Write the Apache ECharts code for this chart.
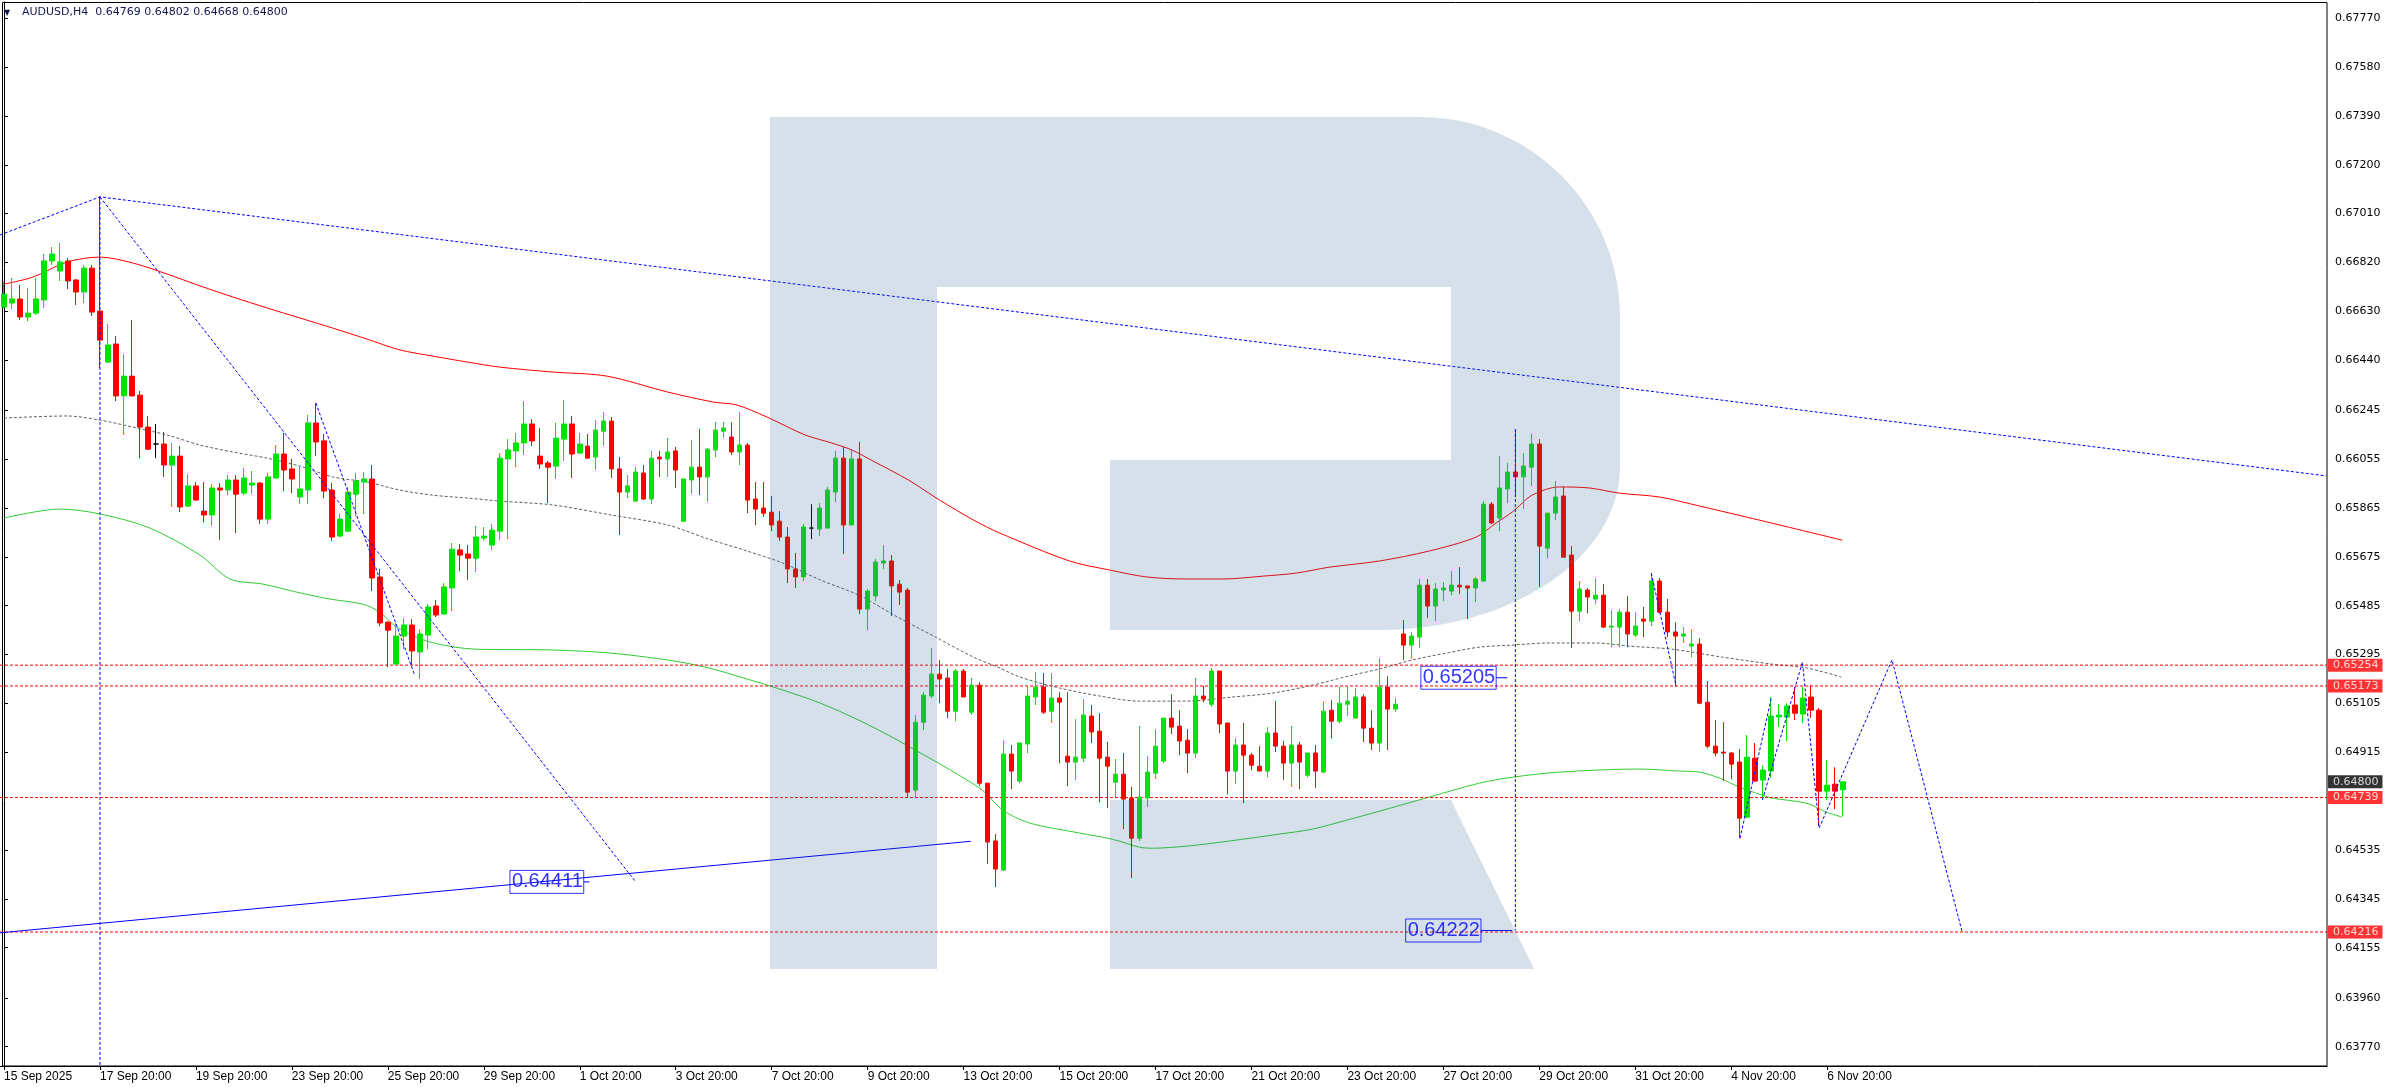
<!DOCTYPE html>
<html><head><meta charset="utf-8">
<script src="https://cdn.jsdelivr.net/npm/echarts@6/dist/echarts.min.js"></script>
<style>html,body{margin:0;padding:0;background:#fff}#c{width:2390px;height:1090px}</style>
</head><body><div id="c"></div>
<script>
const symbolName = 'AUDUSD,H4';
const xTickLabels = ['15 Sep 2025','17 Sep 20:00','19 Sep 20:00','23 Sep 20:00','25 Sep 20:00','29 Sep 20:00','1 Oct 20:00','3 Oct 20:00','7 Oct 20:00','9 Oct 20:00','13 Oct 20:00','15 Oct 20:00','17 Oct 20:00','21 Oct 20:00','23 Oct 20:00','27 Oct 20:00','29 Oct 20:00','31 Oct 20:00','4 Nov 20:00','6 Nov 20:00'];
const yTickValues = [0.63770,0.63960,0.64155,0.64345,0.64535,0.64915,0.65105,0.65295,0.65485,0.65675,0.65865,0.66055,0.66245,0.66440,0.66630,0.66820,0.67010,0.67200,0.67390,0.67580,0.67770];

const opens = [0.66647,0.66662,0.66678,0.66608,0.66623,0.66674,0.66826,0.66787,0.66826,0.66752,0.66705,0.66798,0.66631,0.66433,0.66503,0.66301,0.66378,0.66304,0.66180,0.66114,
0.66114,0.66032,0.66067,0.65873,0.65951,0.65853,0.65838,0.65943,0.65935,0.65974,0.65923,0.65954,0.65962,0.65822,0.65982,0.66075,0.66017,0.65908,0.65935,0.66196,
0.66126,0.65935,0.65756,0.65775,0.65919,0.65966,0.65978,0.65597,0.65421,0.65258,0.65367,0.65410,0.65305,0.65371,0.65484,0.65453,0.65554,0.65702,0.65686,0.65670,
0.65748,0.65721,0.65775,0.66056,0.66087,0.66118,0.66192,0.66067,0.66040,0.66028,0.66133,0.66192,0.66079,0.66106,0.66063,0.66164,0.66203,0.66017,0.65927,0.65892,
0.66001,0.65900,0.66063,0.66056,0.66087,0.65814,0.65974,0.66024,0.65986,0.66091,0.66164,0.66141,0.66083,0.66110,0.65900,0.65865,0.65849,0.65814,0.65752,0.65628,
0.65597,0.65787,0.65783,0.65787,0.65927,0.66059,0.65799,0.66056,0.65472,0.65523,0.65651,0.65659,0.65569,0.65546,0.64768,0.65032,0.65134,0.65219,0.65204,0.65075,
0.65231,0.65071,0.65176,0.64795,0.64570,0.64457,0.64908,0.64803,0.64947,0.65130,0.65169,0.65075,0.65126,0.64900,0.64877,0.64892,0.65056,0.64997,0.64896,0.64799,
0.64830,0.64737,0.64581,0.64737,0.64834,0.64881,0.65048,0.65017,0.64962,0.64912,0.65134,0.65102,0.65231,0.65029,0.64842,0.64943,0.64904,0.64861,0.64842,0.64990,
0.64939,0.64873,0.64943,0.64826,0.64912,0.64838,0.65079,0.65036,0.65102,0.65048,0.65130,0.65009,0.64951,0.65169,0.65083,0.65375,0.65332,0.65363,0.65565,0.65484,
0.65546,0.65542,0.65565,0.65562,0.65554,0.65581,0.65880,0.65826,0.65939,0.66005,0.65986,0.66024,0.66114,0.65709,0.65845,0.65912,0.65682,0.65464,0.65546,0.65511,
0.65526,0.65402,0.65402,0.65460,0.65371,0.65433,0.65425,0.65581,0.65460,0.65383,0.65367,0.65328,0.65336,0.65110,0.64939,0.64916,0.64912,0.64877,0.64663,0.64892,
0.64807,0.64842,0.65052,0.65052,0.65099,0.65064,0.65130,0.65079,0.64764,0.64791,0.64769];
const highs = [0.66744,0.66760,0.66732,0.66721,0.66760,0.66853,0.66880,0.66896,0.66837,0.66756,0.66810,0.66810,0.67075,0.66581,0.66534,0.66464,0.66596,0.66320,0.66223,0.66192,
0.66161,0.66118,0.66106,0.65997,0.65966,0.65966,0.65958,0.65962,0.65993,0.65993,0.66021,0.66009,0.65966,0.66001,0.66110,0.66157,0.66056,0.66024,0.66227,0.66273,
0.66153,0.65962,0.65842,0.65947,0.66001,0.66005,0.66032,0.65628,0.65425,0.65418,0.65437,0.65433,0.65394,0.65491,0.65507,0.65573,0.65729,0.65725,0.65721,0.65795,
0.65791,0.65803,0.66079,0.66133,0.66157,0.66281,0.66211,0.66176,0.66048,0.66196,0.66285,0.66223,0.66157,0.66153,0.66207,0.66238,0.66219,0.66063,0.65993,0.66024,
0.66032,0.66087,0.66087,0.66137,0.66102,0.65978,0.66129,0.66172,0.66098,0.66199,0.66199,0.66199,0.66238,0.66118,0.65966,0.65966,0.65912,0.65853,0.65791,0.65690,
0.65803,0.65880,0.65884,0.65947,0.66087,0.66102,0.66094,0.66122,0.65550,0.65667,0.65721,0.65682,0.65585,0.65554,0.65060,0.65149,0.65320,0.65274,0.65239,0.65239,
0.65239,0.65204,0.65188,0.64795,0.64597,0.64962,0.64943,0.64951,0.65173,0.65227,0.65223,0.65223,0.65149,0.65149,0.65044,0.65122,0.65099,0.65067,0.64955,0.64889,
0.64912,0.64780,0.65017,0.64900,0.65005,0.65048,0.65141,0.65079,0.65005,0.65204,0.65173,0.65243,0.65231,0.65029,0.64970,0.65029,0.64912,0.64939,0.65013,0.65114,
0.64959,0.65017,0.64955,0.64912,0.64943,0.65114,0.65118,0.65169,0.65169,0.65165,0.65141,0.65079,0.65281,0.65211,0.65126,0.65429,0.65383,0.65589,0.65589,0.65573,
0.65577,0.65620,0.65635,0.65562,0.65597,0.65892,0.65888,0.66067,0.66040,0.66172,0.66079,0.66153,0.66133,0.65845,0.65970,0.65947,0.65717,0.65581,0.65554,0.65593,
0.65569,0.65468,0.65472,0.65523,0.65460,0.65480,0.65612,0.65593,0.65511,0.65421,0.65402,0.65394,0.65359,0.65192,0.65040,0.65032,0.64916,0.64927,0.64982,0.64951,
0.64865,0.65130,0.65102,0.65106,0.65169,0.65169,0.65176,0.65087,0.64885,0.64857,0.64802];
const lows = [0.66643,0.66639,0.66596,0.66592,0.66616,0.66643,0.66810,0.66748,0.66717,0.66655,0.66662,0.66612,0.66410,0.66429,0.66281,0.66149,0.66301,0.66059,0.66091,0.66059,
0.65986,0.65869,0.65849,0.65869,0.65892,0.65810,0.65795,0.65740,0.65915,0.65768,0.65915,0.65919,0.65803,0.65803,0.65978,0.65931,0.65923,0.65880,0.65880,0.66067,
0.65904,0.65737,0.65752,0.65772,0.65834,0.65842,0.65542,0.65406,0.65246,0.65258,0.65316,0.65254,0.65200,0.65316,0.65441,0.65449,0.65464,0.65620,0.65585,0.65616,
0.65740,0.65702,0.65740,0.65744,0.66024,0.66071,0.66106,0.66017,0.65884,0.65978,0.66048,0.65982,0.66075,0.66056,0.66013,0.66106,0.65982,0.65760,0.65904,0.65888,
0.65896,0.65880,0.65986,0.65986,0.65943,0.65810,0.65919,0.65915,0.65888,0.66063,0.66137,0.66071,0.66032,0.65845,0.65799,0.65830,0.65775,0.65737,0.65573,0.65554,
0.65581,0.65744,0.65756,0.65787,0.65888,0.65686,0.65799,0.65453,0.65390,0.65503,0.65628,0.65445,0.65488,0.64741,0.64741,0.65001,0.65126,0.65106,0.65048,0.65036,
0.65130,0.65060,0.64784,0.64480,0.64391,0.64453,0.64772,0.64795,0.64912,0.65099,0.65064,0.65029,0.64873,0.64784,0.64807,0.64877,0.64951,0.64721,0.64698,0.64741,
0.64616,0.64426,0.64570,0.64702,0.64811,0.64873,0.64986,0.64904,0.64834,0.64892,0.65110,0.65091,0.64990,0.64752,0.64791,0.64717,0.64846,0.64842,0.64818,0.64916,
0.64807,0.64780,0.64772,0.64818,0.64776,0.64834,0.64970,0.65029,0.65056,0.65048,0.64955,0.64924,0.64916,0.64924,0.65071,0.65274,0.65278,0.65320,0.65437,0.65425,
0.65503,0.65526,0.65530,0.65433,0.65499,0.65581,0.65803,0.65775,0.65884,0.65908,0.65861,0.65951,0.65558,0.65670,0.65818,0.65674,0.65320,0.65425,0.65456,0.65491,
0.65398,0.65324,0.65324,0.65324,0.65363,0.65363,0.65406,0.65456,0.65363,0.65169,0.65340,0.65285,0.65102,0.64931,0.64900,0.64803,0.64811,0.64581,0.64659,0.64799,
0.64729,0.64815,0.65013,0.64959,0.65040,0.65029,0.65048,0.64628,0.64729,0.64694,0.64668];
const closes = [0.66697,0.66678,0.66608,0.66623,0.66678,0.66826,0.66853,0.66822,0.66748,0.66705,0.66798,0.66627,0.66518,0.66499,0.66301,0.66378,0.66301,0.66180,0.66094,0.66114,
0.66032,0.66067,0.65869,0.65951,0.65896,0.65838,0.65943,0.65935,0.65974,0.65919,0.65982,0.65962,0.65822,0.65986,0.66075,0.66013,0.65978,0.65939,0.66196,0.66122,
0.65931,0.65752,0.65822,0.65927,0.65970,0.65978,0.65593,0.65418,0.65390,0.65367,0.65410,0.65309,0.65375,0.65480,0.65449,0.65558,0.65705,0.65682,0.65670,0.65752,
0.65756,0.65779,0.66059,0.66091,0.66118,0.66192,0.66126,0.66036,0.66024,0.66137,0.66192,0.66075,0.66114,0.66059,0.66168,0.66203,0.66017,0.65927,0.65951,0.66005,
0.65900,0.66059,0.66056,0.66083,0.66013,0.65978,0.66024,0.65986,0.66094,0.66168,0.66176,0.66083,0.66110,0.65896,0.65861,0.65845,0.65799,0.65752,0.65628,0.65597,
0.65791,0.65787,0.65865,0.65935,0.66059,0.65799,0.66056,0.65472,0.65542,0.65655,0.65659,0.65562,0.65538,0.64760,0.65032,0.65137,0.65219,0.65200,0.65075,0.65231,
0.65130,0.65176,0.64795,0.64566,0.64461,0.64908,0.64842,0.64951,0.65134,0.65169,0.65071,0.65126,0.65110,0.64877,0.64896,0.65060,0.64994,0.64892,0.64861,0.64830,
0.64733,0.64581,0.64741,0.64838,0.64939,0.65048,0.65013,0.64959,0.64912,0.65134,0.65122,0.65231,0.65025,0.64842,0.64943,0.64904,0.64865,0.64842,0.64990,0.64939,
0.64873,0.64943,0.64877,0.64912,0.64842,0.65075,0.65036,0.65106,0.65114,0.65130,0.65009,0.64951,0.65169,0.65083,0.65102,0.65332,0.65367,0.65565,0.65484,0.65550,
0.65554,0.65565,0.65558,0.65554,0.65589,0.65880,0.65807,0.65943,0.66005,0.65986,0.66028,0.66114,0.65717,0.65845,0.65908,0.65674,0.65464,0.65550,0.65519,0.65526,
0.65402,0.65406,0.65460,0.65375,0.65406,0.65425,0.65581,0.65460,0.65383,0.65367,0.65375,0.65336,0.65106,0.64939,0.64912,0.64912,0.64869,0.64659,0.64896,0.64803,
0.64846,0.65056,0.65060,0.65095,0.65067,0.65126,0.65079,0.64764,0.64787,0.64764,0.64800];

const levelPrices = [0.65254, 0.65173, 0.64739, 0.64216];
const currentPrice = 0.64800;

const redMa = [[0,0.66736],[3.6,0.66763],[7.9,0.66822],[12,0.66841],[16.1,0.66818],[20.4,0.66775],[24.5,0.66729],[28.6,0.66686],[32.9,0.66643],[37,0.66604],[41.1,0.66565],[45.4,0.66522],[49.5,0.66480],[53.6,0.66456],[57.9,0.66433],[62,0.66413],[68.6,0.66394],[75.4,0.66378],[83,0.66316],[88.75,0.66277],[91.6,0.66266],[95.4,0.66219],[100.2,0.66149],[103.5,0.66118],[106,0.66091],[108.9,0.66044],[113.1,0.65974],[117,0.65896],[121.25,0.65818],[124.5,0.65768],[133.25,0.65659],[138.25,0.65624],[142.9,0.65597],[147.9,0.65589],[152.4,0.65589],[157.4,0.65600],[161.6,0.65612],[165.75,0.65635],[172,0.65659],[178.25,0.65698],[184.1,0.65752],[186.6,0.65807],[188.6,0.65849],[191.1,0.65915],[194.5,0.65947],[198.25,0.65943],[202,0.65923],[207,0.65908],[212,0.65873],[219.5,0.65818],[229.9,0.65740]];
const grayMid = [[0,0.66215],[7.9,0.66223],[12,0.66207],[16.1,0.66180],[20.4,0.66149],[24.5,0.66110],[28.6,0.66083],[32.9,0.66059],[37,0.66028],[41.1,0.65986],[45.4,0.65966],[49.5,0.65935],[53.6,0.65915],[57.9,0.65904],[62,0.65892],[68.6,0.65877],[75.9,0.65838],[83,0.65799],[87.75,0.65748],[92.5,0.65702],[97.4,0.65651],[102.1,0.65585],[106.9,0.65526],[111.75,0.65441],[116.5,0.65363],[121.25,0.65285],[124.5,0.65243],[127,0.65208],[132,0.65165],[137,0.65134],[142,0.65114],[147.9,0.65114],[153.6,0.65130],[158.6,0.65145],[163.6,0.65176],[168.6,0.65215],[172,0.65239],[176.1,0.65274],[180.4,0.65301],[184.5,0.65324],[188.6,0.65332],[192.9,0.65340],[199.1,0.65340],[203.25,0.65328],[208.6,0.65316],[214.9,0.65285],[221.1,0.65258],[225.4,0.65243],[229.75,0.65208]];
const greenMa = [[0,0.65826],[7,0.65861],[12,0.65842],[18.25,0.65787],[24.5,0.65682],[28.25,0.65589],[32.4,0.65569],[36.6,0.65538],[40.75,0.65511],[44.9,0.65491],[47,0.65460],[49.1,0.65402],[53.25,0.65344],[59,0.65316],[68.6,0.65313],[75.75,0.65301],[83,0.65274],[87.75,0.65246],[92.5,0.65204],[97.4,0.65157],[102.1,0.65106],[106.9,0.65040],[111.75,0.64962],[122,0.64776],[124.9,0.64690],[128.25,0.64640],[134.5,0.64601],[138.6,0.64577],[142,0.64546],[143.6,0.64542],[147.9,0.64550],[153.25,0.64570],[159.5,0.64597],[163.6,0.64616],[167.9,0.64651],[172,0.64686],[178.25,0.64741],[184.5,0.64795],[188.6,0.64818],[194.5,0.64838],[204.5,0.64850],[209.5,0.64842],[212,0.64838],[214.5,0.64815],[217,0.64780],[219.5,0.64752],[221.1,0.64737],[225.4,0.64717],[227.9,0.64682],[229.9,0.64663]];

const dottedObjects = [
  [[-0.5,0.66927],[12,0.67075],[290.4,0.65990]],
  [[12,0.67075],[79,0.64411]],
  [[39,0.66273],[51.3,0.65220]],
  [[12,0.67075],[12,0.63695]],
  [[189,0.66172],[189,0.64222]],
  [[206,0.65612],[209.1,0.65173]],
  [[217.1,0.64581],[221,0.65125]],
  [[219.9,0.64730],[224.9,0.65266],[227,0.64621],[236.1,0.65274],[244.9,0.64213]]
];
const solidObjects = [
  [[-0.5,0.64213],[120.9,0.64569]],
  [[186.6,0.65205],[188,0.65205]],
  [[184.7,0.64222],[188.6,0.64222]],
  [[72.5,0.64411],[73.2,0.64411]]
];
const priceTags = [[186.6,0.65205],[184.7,0.64222],[72.5,0.64411]];

const SLOTS = 291;
const X_MIN = -0.5, X_MAX = 290.5;
const Y_MIN = 0.63695, Y_MAX = 0.67833;

const cats = Array.from({length: SLOTS}, (_, i) => (i % 12 === 0 && i / 12 < xTickLabels.length) ? xTickLabels[i / 12] : '');
const candleData = opens.map((o, i) => {
  const v = [o, closes[i], lows[i], highs[i]];
  if (o === closes[i]) return {value: v, itemStyle: {color: '#000', color0: '#000', borderColor: '#000', borderColor0: '#000'}};
  return v;
});
const last = opens.length - 1;
const headerText = symbolName + '  ' + [opens[last], highs[last], lows[last], closes[last]].map(v => v.toFixed(5)).join(' ');

// watermark outline (decoration, in pixels)
function arcPts(cx, cy, rx, ry, a0, a1, n) {
  const out = [];
  for (let k = 0; k <= n; k++) { const a = a0 + (a1 - a0) * k / n; out.push([cx + rx * Math.cos(a), cy + ry * Math.sin(a)]); }
  return out;
}
const logoMain = [[770,117],[1420,117]]
  .concat(arcPts(1420, 317, 200, 200, -Math.PI / 2, 0, 24))
  .concat([[1620,467]])
  .concat(arcPts(1380, 467, 240, 163, 0, Math.PI / 2, 24))
  .concat([[1110,630],[1110,460],[1451,460],[1451,287],[937,287],[937,969],[770,969]]);
const logoLeg = [[1110,800],[1451,800],[1534,969],[1110,969]];

const series = [];
series.push({
  type: 'candlestick', xAxisIndex: 0, yAxisIndex: 0, data: candleData, barWidth: 5,
  itemStyle: {color: '#00e400', color0: '#ff0000', borderColor: '#00e400', borderColor0: '#ff0000', borderWidth: 1},
  z: 3
});
series.push({type: 'line', xAxisIndex: 1, data: grayMid, smooth: 0.3, symbol: 'none', lineStyle: {color: '#606060', width: 1, type: [3, 2]}, z: 2});
series.push({type: 'line', xAxisIndex: 1, data: redMa, smooth: 0.3, symbol: 'none', lineStyle: {color: '#ff0000', width: 1}, z: 2});
series.push({type: 'line', xAxisIndex: 1, data: greenMa, smooth: 0.3, symbol: 'none', lineStyle: {color: '#32cd32', width: 1}, z: 2});
levelPrices.forEach(p => series.push({type: 'line', xAxisIndex: 1, data: [[X_MIN, p], [X_MAX, p]], symbol: 'none',
  lineStyle: {color: '#ff0000', width: 1, type: [3, 2]}, z: 2}));
dottedObjects.forEach(d => series.push({type: 'line', xAxisIndex: 1, data: d, symbol: 'none', lineStyle: {color: '#0000ff', width: 1, type: [3, 2]}, z: 4}));
solidObjects.forEach(d => series.push({type: 'line', xAxisIndex: 1, data: d, symbol: 'none', lineStyle: {color: '#0000ff', width: 1}, z: 4}));
series.push({type: 'scatter', xAxisIndex: 1, data: priceTags, symbolSize: 0, clip: false, z: 60,
  label: {show: true, position: 'left', distance: 0, formatter: p => p.value[1].toFixed(5),
    fontFamily: 'Liberation Sans, Arial, sans-serif', fontSize: 20, lineHeight: 22, color: '#0000ff',
    borderColor: '#0000ff', borderWidth: 1, padding: [1, 1, 0, 2]}});
series.push({type: 'scatter', xAxisIndex: 1, symbolSize: 0, clip: false, z: 60,
  data: levelPrices.map(p => ({value: [X_MAX, p], label: {backgroundColor: '#ff0000'}}))
    .concat([{value: [X_MAX, currentPrice], label: {backgroundColor: '#000000'}}]),
  label: {show: true, position: 'right', distance: 1, formatter: p => p.value[1].toFixed(5),
    fontFamily: 'DejaVu Sans, sans-serif', fontSize: 11, lineHeight: 12, color: '#fff', padding: [1, 4, 0, 5]}});

const option = {
  animation: false,
  backgroundColor: '#ffffff',
  grid: {left: 0, right: 63, top: 2, bottom: 24, containLabel: false},
  xAxis: [
    {type: 'category', data: cats, boundaryGap: true,
     axisLine: {show: true, lineStyle: {color: '#000', width: 1}},
     axisTick: {show: true, alignWithLabel: true, length: 4, interval: (i, v) => v !== '', lineStyle: {color: '#000'}},
     axisLabel: {show: true, interval: (i, v) => v !== '', align: 'left', margin: 5, fontSize: 12,
       fontFamily: 'Liberation Sans, Arial, sans-serif', color: '#000'},
     splitLine: {show: false}},
    {type: 'value', min: X_MIN, max: X_MAX, show: false}
  ],
  yAxis: [{type: 'value', position: 'right', min: Y_MIN, max: Y_MAX, scale: true,
    axisLine: {show: true, lineStyle: {color: '#000', width: 1}},
    axisTick: {show: true, length: 4, customValues: yTickValues, lineStyle: {color: '#000'}},
    axisLabel: {show: true, customValues: yTickValues, formatter: v => v.toFixed(5), margin: 8,
      fontSize: 11, fontFamily: 'DejaVu Sans, sans-serif', color: '#000'},
    splitLine: {show: false}}],
  graphic: [
    {type: 'rect', silent: true, z: 1, shape: {x: 2.5, y: 2.5, width: 2324.5, height: 1063.5}, style: {fill: 'none', stroke: '#000', lineWidth: 1}},
    {type: 'polygon', silent: true, z: 50, shape: {points: logoMain}, style: {fill: 'rgba(45,100,150,0.2)'}},
    {type: 'polygon', silent: true, z: 50, shape: {points: logoLeg}, style: {fill: 'rgba(45,100,150,0.2)'}},
    {type: 'text', silent: true, z: 70, x: 4, y: 12.5, style: {text: '\u25BC', fill: '#101850', verticalAlign: 'middle', font: '8px DejaVu Sans'}},
    {type: 'text', silent: true, z: 70, x: 22, y: 12.5, style: {text: headerText, fill: '#101850', verticalAlign: 'middle', font: '11px DejaVu Sans'}}
  ],
  series: series
};
const chart = echarts.init(document.getElementById('c'));
chart.setOption(option);
</script></body></html>
